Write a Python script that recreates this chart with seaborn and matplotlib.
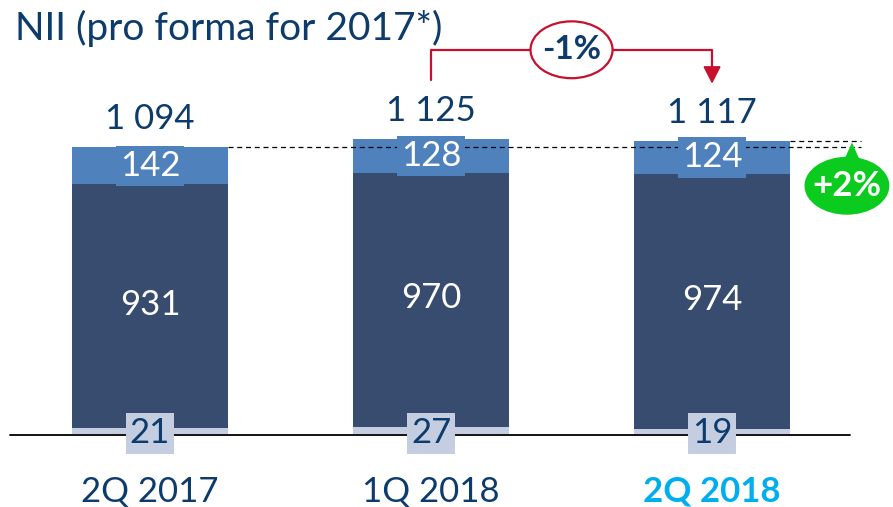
import matplotlib
matplotlib.use("Agg")
import matplotlib.pyplot as plt
import seaborn as sns
import pandas as pd
from matplotlib.patches import Ellipse, Polygon

sns.set_theme(style="white")
plt.rcParams['font.family'] = ['Lato', 'DejaVu Sans']

categories = ["2Q 2017", "1Q 2018", "2Q 2018"]
bottom_vals = [21, 27, 19]
middle_vals = [931, 970, 974]
top_vals = [142, 128, 124]
totals = [1094, 1125, 1117]
total_labels = ["1 094", "1 125", "1 117"]
change_yoy = "+2%"
change_qoq = "-1%"
title = "NII (pro forma for 2017*)"

DARK = "#374C6E"
MID = "#4F81BD"
LIGHT = "#C5CEE0"
NAVY = "#0C3B6C"
CYAN = "#00AEEF"
RED = "#C8102E"
GREEN = "#0ACB1E"

df = pd.DataFrame({"cat": categories, "bottom": bottom_vals, "middle": middle_vals,
                   "top": top_vals, "total": totals})
df["lower2"] = df["bottom"] + df["middle"]
df["stack_total"] = df["lower2"] + df["top"]

fig = plt.figure(figsize=(8.93, 5.07), dpi=100)
ax = fig.add_axes([0, 0, 1, 1])
W = 0.552
for col, c in [("stack_total", MID), ("lower2", DARK), ("bottom", LIGHT)]:
    sns.barplot(data=df, x="cat", y=col, color=c, saturation=1, width=W, ax=ax,
                zorder=2, linewidth=0, edgecolor="none")

ax.set_xlim(-0.534, 2.644)
ax.set_ylim(-279, 1656)
ax.axis("off")

FS = 25
# baseline
ax.plot([-0.498, 2.49], [-3, -3], color="black", lw=1.3, zorder=3)

for i, r in df.iterrows():
    ax.text(i, r["lower2"] + r["top"] / 2, str(r["top"]), ha="center", va="center",
            color="white", fontsize=FS, zorder=5,
            bbox=dict(boxstyle="square,pad=0.12", fc=MID, ec="none"))
    ax.text(i, r["bottom"] + r["middle"] / 2 + 5, str(r["middle"]), ha="center", va="center",
            color="white", fontsize=FS, zorder=5)
    ax.text(i, 2, str(r["bottom"]), ha="center", va="center",
            color=NAVY, fontsize=FS, zorder=5,
            bbox=dict(boxstyle="square,pad=0.12", fc=LIGHT, ec="none"))
    ax.annotate(total_labels[i], (i, r["stack_total"]), xytext=(0, 20), textcoords="offset points",
                ha="center", va="center", color=NAVY, fontsize=FS)
    last = i == len(df) - 1
    ax.text(i, -221, r["cat"], ha="center", va="center", fontsize=FS,
            color=CYAN if last else NAVY, fontweight="bold" if last else "normal")

# dashed reference lines
ax.plot([0 + W / 2, 2.53], [totals[0], totals[0]], color="black", lw=0.9, ls=(0, (4, 3)), zorder=3)
ax.plot([2 + W / 2, 2.53], [totals[2], totals[2]], color="black", lw=0.9, ls=(0, (4, 3)), zorder=3)

# -1% bracket
yb = 1466
ax.plot([1, 1, 2, 2], [1351, yb, yb, 1401], color=RED, lw=1.6, zorder=4)
ax.add_patch(Polygon([[2 - 0.028, 1401], [2 + 0.028, 1401], [2, 1342]], closed=True,
                     fc=RED, ec=RED, zorder=4))
ax.add_patch(Ellipse((1.5, yb), 0.292, 217, fc="white", ec=RED, lw=1.6, zorder=5))
ax.text(1.5, yb, change_qoq, ha="center", va="center", color=NAVY, fontsize=24,
        fontweight="bold", zorder=6)

# +2% bubble
ax.add_patch(Polygon([[2.455, 1010], [2.54, 1010], [2.498, 1112]], closed=True,
                     fc=GREEN, ec="none", zorder=4))
ax.add_patch(Ellipse((2.48, 947), 0.302, 221, fc=GREEN, ec="none", zorder=5))
ax.text(2.48, 945, change_yoy, ha="center", va="center", color="white", fontsize=25,
        fontweight="bold", zorder=6)

fig.text(15 / 893, 1 - 28 / 507, title, ha="left", va="center", color=NAVY, fontsize=28)

fig.savefig("out.png", dpi=100)
